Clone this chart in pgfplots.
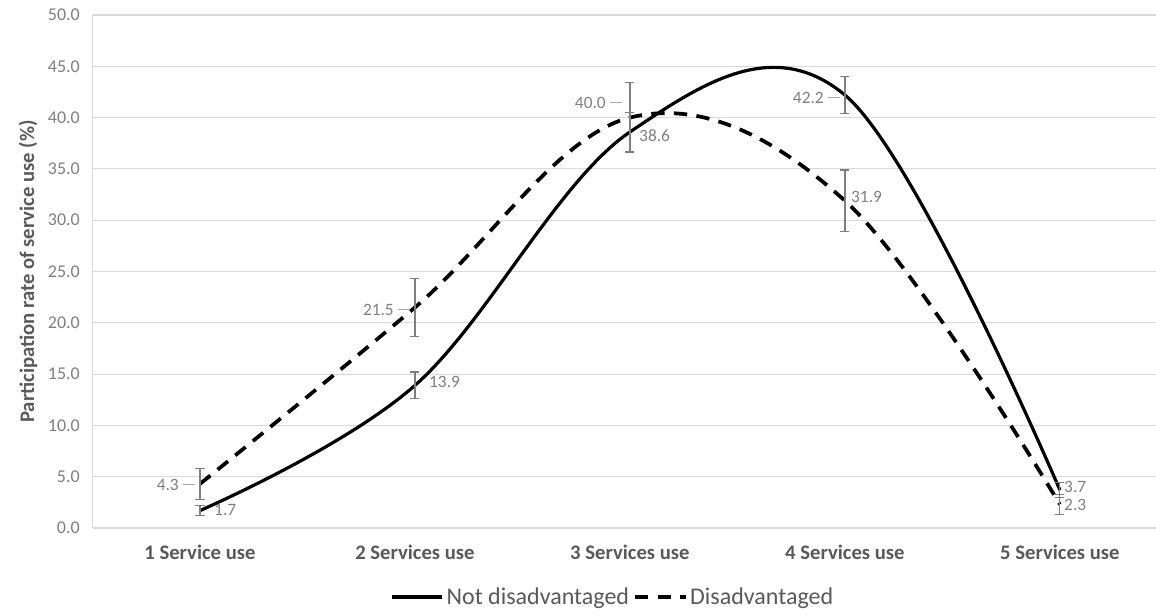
\documentclass[border=0pt]{standalone}
\usepackage{fontspec}
\setmainfont{Carlito}
\usepackage{pgfplots}
\pgfplotsset{compat=1.18}
\definecolor{gridgray}{HTML}{D9D9D9}
\definecolor{ticktext}{HTML}{7F7F7F}
\definecolor{labtext}{HTML}{595959}
\definecolor{errgray}{HTML}{7F7F7F}
\definecolor{leadercol}{HTML}{A6A6A6}
\begin{document}
\begin{tikzpicture}
\path[use as bounding box] (0,0) rectangle (867pt,460.5pt);
\begin{axis}[
  at={(69.375pt,64.5pt)}, anchor=south west,
  scale only axis, width=797.6pt, height=384.75pt,
  xmin=0.5, xmax=5.447, ymin=0, ymax=50,
  xtick={1,2,3,4,5},
  xticklabels={1 Service use, 2 Services use, 3 Services use, 4 Services use, 5 Services use},
  ytick={0,5,10,15,20,25,30,35,40,45,50},
  /pgf/number format/assume math mode=true,
  yticklabel style={/pgf/number format/fixed, /pgf/number format/fixed zerofill,
    /pgf/number format/precision=1, font=\fontsize{13.5}{16}\selectfont, text=ticktext, xshift=-6pt},
  xticklabel style={font=\fontsize{15.5}{18}\bfseries, text=labtext, yshift=-9pt},
  major tick length=0pt,
  ymajorgrids, grid style={gridgray, line width=0.8pt},
  axis lines*=left, axis line style={draw=gridgray, line width=0.8pt, -},
  ylabel={Participation rate of service use (\%)},
  ylabel style={at={(axis description cs:-0.0606,0.5)}, anchor=center,
    font=\fontsize{15.5}{18}\bfseries, text=labtext},
  legend style={at={(axis description cs:0.4894,-0.1345)}, anchor=center, draw=none, fill=none,
    legend columns=2, font=\fontsize{18}{21}\selectfont, text=labtext,
    /tikz/every even column/.append style={column sep=1pt}},
  legend image code/.code={\draw[#1] (0pt,0pt) -- (38pt,0pt);},
  legend cell align=left,
  error bars/y dir=both, error bars/y explicit,
  error bars/error bar style={solid, errgray, line width=0.9pt},
  error bars/error mark options={solid, errgray, rotate=90, mark size=3.4pt, line width=0.9pt},
]
% Not disadvantaged
\addplot[black, line width=2.4pt, smooth, tension=0.6] table[x=x, y=y, y error=e] {
x y e
1 1.7 0.5
2 13.9 1.3
3 38.6 1.9
4 42.2 1.8
5 3.7 0.7
};
\addlegendentry{Not disadvantaged}
% Disadvantaged
\addplot[black, line width=2.8pt, smooth, tension=0.6, dash pattern=on 10pt off 7pt] table[x=x, y=y, y error=e] {
x y e
1 4.3 1.5
2 21.5 2.8
3 40.0 3.4
4 31.9 3.0
5 2.3 1.0
};
\addlegendentry{Disadvantaged}
% data labels, right of points
\addplot[draw=none, forget plot, nodes near coords, point meta=explicit symbolic,
  every node near coord/.style={anchor=west, inner sep=0pt, font=\fontsize{13}{15}\selectfont, text=ticktext}]
  table[meta=lab] {
x y lab
1.065 1.75 1.7
2.065 14.23 13.9
3.042 38.21 38.6
4.028 32.26 31.9
5.019 4.0 3.7
5.019 2.24 2.3
};
% data labels, left of points with leader
\addplot[draw=none, forget plot, nodes near coords={\pgfplotspointmeta\hspace{3pt}\textcolor{leadercol}{\rule[0.32em]{9pt}{0.7pt}}},
  point meta=explicit symbolic,
  every node near coord/.style={anchor=east, inner sep=0pt, font=\fontsize{13}{15}\selectfont, text=ticktext}]
  table[meta=lab] {
x y lab
0.977 4.19 4.3
1.977 21.25 21.5
2.963 41.42 40.0
3.977 41.9 42.2
};
\end{axis}
\end{tikzpicture}
\end{document}
